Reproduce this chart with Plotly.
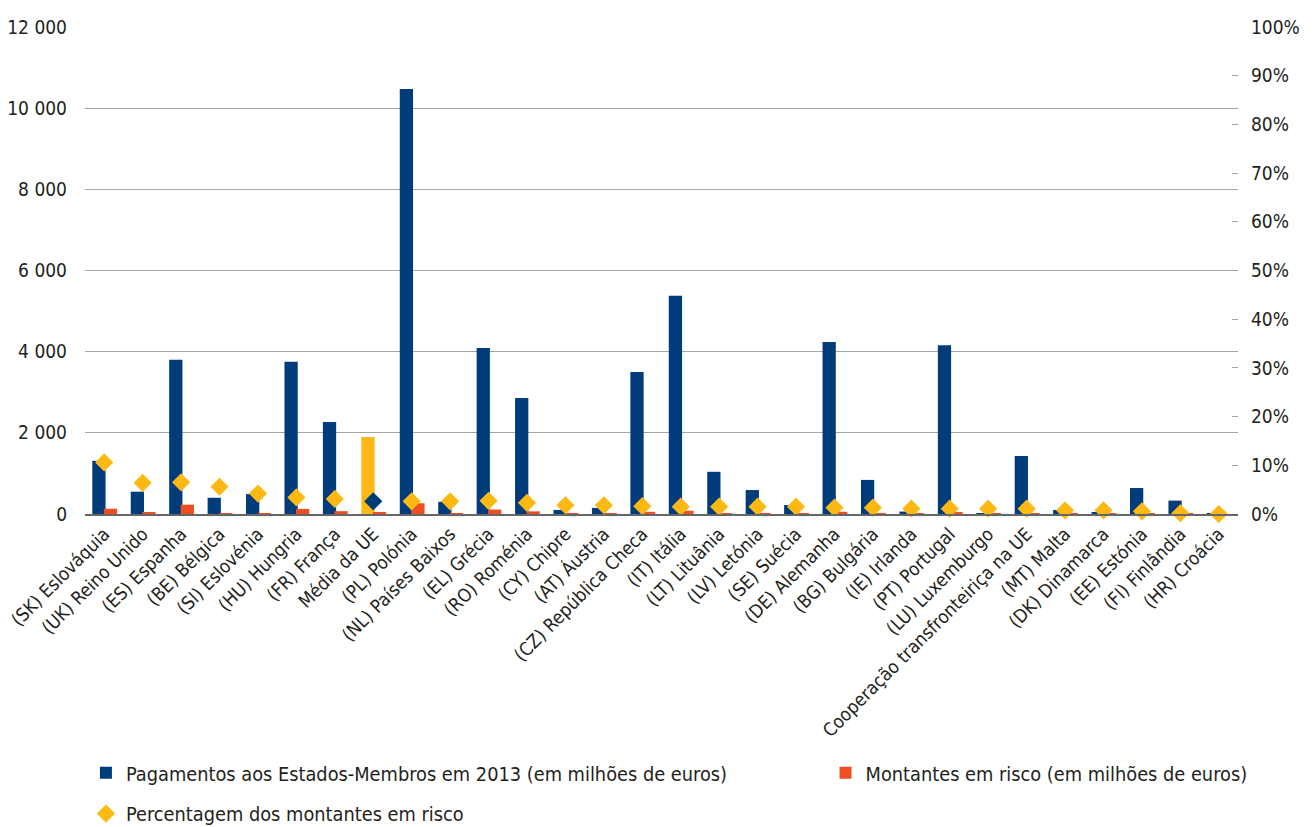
import plotly.graph_objects as go

categories = [
    "(SK) Eslováquia", "(UK) Reino Unido", "(ES) Espanha", "(BE) Bélgica", "(SI) Eslovénia",
    "(HU) Hungria", "(FR) França", "Média da UE", "(PL) Polónia", "(NL) Países Baixos",
    "(EL) Grécia", "(RO) Roménia", "(CY) Chipre", "(AT) Áustria", "(CZ) República Checa",
    "(IT) Itália", "(LT) Lituânia", "(LV) Letónia", "(SE) Suécia", "(DE) Alemanha",
    "(BG) Bulgária", "(IE) Irlanda", "(PT) Portugal", "(LU) Luxemburgo",
    "Cooperação transfronteiriça na UE", "(MT) Malta", "(DK) Dinamarca", "(EE) Estónia",
    "(FI) Finlândia", "(HR) Croácia",
]

payments = [1310, 550, 3800, 400, 490, 3750, 2270, 1900, 10470, 300,
            4090, 2860, 100, 150, 3500, 5380, 1040, 590, 220, 4240,
            840, 60, 4160, 20, 1430, 100, 30, 640, 330, 5]

at_risk = [130, 35, 230, 20, 20, 125, 70, 45, 265, 8,
           110, 65, 2, 3, 55, 80, 15, 9, 3, 55,
           11, 1, 45, 0.2, 15, 1, 0.3, 4, 0.5, 0]

pct_at_risk = [10.6, 6.4, 6.5, 5.6, 4.2, 3.4, 3.1, 2.6, 2.6, 2.6,
               2.7, 2.3, 1.8, 1.8, 1.6, 1.5, 1.5, 1.5, 1.5, 1.3,
               1.3, 1.1, 1.1, 1.1, 1.1, 0.75, 0.75, 0.55, 0.15, 0.0]

left_ticks = [0, 2000, 4000, 6000, 8000, 10000, 12000]
left_ticktext = ["0", "2 000", "4 000", "6 000", "8 000", "10 000", "12 000"]
right_ticks = [0, 10, 20, 30, 40, 50, 60, 70, 80, 90, 100]
right_ticktext = [f"{v}%" for v in right_ticks]

BLUE = "#003b7a"
RED = "#f04e23"
YELLOW = "#fdb913"
AVG = "Média da UE"

bar_colors = [YELLOW if c == AVG else BLUE for c in categories]
dia_colors = [BLUE if c == AVG else YELLOW for c in categories]

FONT = "DejaVu Sans Condensed, Liberation Sans Narrow, sans-serif"

fig = go.Figure()
fig.add_trace(go.Bar(
    x=categories, y=payments, name="Pagamentos aos Estados-Membros em 2013 (em milhões de euros)",
    marker=dict(color=bar_colors, line=dict(width=0)), width=0.345, offset=-0.31,
    legend="legend", legendgroup="a",
))
fig.add_trace(go.Bar(
    x=categories, y=at_risk, name="Montantes em risco (em milhões de euros)",
    marker=dict(color=RED, line=dict(width=0)), width=0.345, offset=-0.01,
    legend="legend2", legendgroup="b",
))
fig.add_trace(go.Scatter(
    x=categories, y=pct_at_risk, name="Percentagem dos montantes em risco", yaxis="y2",
    mode="markers", marker=dict(symbol="diamond", size=14, color=dia_colors),
    cliponaxis=False, legend="legend", legendgroup="c",
))

fig.update_layout(
    width=1316, height=827,
    margin=dict(l=85, r=78, t=27, b=313, autoexpand=False),
    paper_bgcolor="white", plot_bgcolor="white",
    barmode="overlay",
    font=dict(family=FONT, size=19, color="#231f20"),
    legend=dict(
        orientation="v", xref="container", yref="container",
        x=0.0653, xanchor="left", y=0.0889, yanchor="top",
        font=dict(size=19.8), itemwidth=30, tracegroupgap=12,
        bgcolor="rgba(0,0,0,0)",
    ),
    legend2=dict(
        orientation="v", xref="container", yref="container",
        x=0.6273, xanchor="left", y=0.0889, yanchor="top",
        font=dict(size=19.8), itemwidth=30, bgcolor="rgba(0,0,0,0)",
    ),
    xaxis=dict(
        type="category", range=[-0.5, len(categories) - 0.5],
        tickangle=-45, showgrid=False, ticks="",
        showline=True, linecolor="#666666", linewidth=2,
        tickfont=dict(size=18.5), automargin=False,
    ),
    yaxis=dict(
        range=[0, 12000], tickvals=left_ticks, ticktext=left_ticktext,
        showgrid=True, gridcolor="#a6a6a6", gridwidth=1, zeroline=False,
        ticks="", ticklabelstandoff=17, automargin=False,
    ),
    yaxis2=dict(
        range=[0, 100], overlaying="y", side="right",
        tickvals=right_ticks, ticktext=right_ticktext,
        showgrid=False, zeroline=False, ticks="inside", ticklen=6,
        tickcolor="#a6a6a6", ticklabelstandoff=12, automargin=False,
    ),
)

fig.write_html("out.html")
